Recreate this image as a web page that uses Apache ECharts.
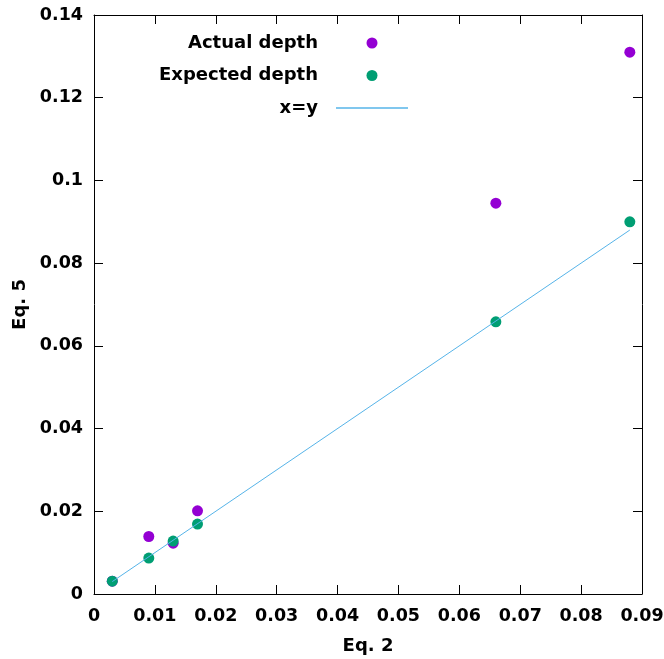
<!DOCTYPE html>
<html>
<head>
<meta charset="utf-8">
<script src="https://cdn.jsdelivr.net/npm/echarts@6/dist/echarts.min.js"></script>
<style>html,body{margin:0;padding:0;background:#fff}#c{width:664px;height:659px}</style>
</head>
<body>
<div id="c"></div>
<script>
// Data
const eq2 = [0.003, 0.009, 0.013, 0.017, 0.066, 0.088];
const actualDepth = [0.0031, 0.0139, 0.0123, 0.0201, 0.0945, 0.131];
const expectedDepth = [0.0031, 0.0087, 0.0128, 0.0169, 0.0658, 0.090];
const identityX = [0.003, 0.088];
const seriesNames = ['Actual depth', 'Expected depth', 'x=y'];

const FONT = 'DejaVu Sans';
const pairs = (xs, ys) => xs.map((x, i) => [x, ys[i]]);

const chart = echarts.init(document.getElementById('c'), null, {renderer: 'canvas'});
const tickStyle = {show: true, inside: true, length: 9, lineStyle: {color: '#000', width: 1}};
const axisLine = {show: true, onZero: false, lineStyle: {color: '#000', width: 1}};
const labelStyle = {color: '#000', fontFamily: FONT, fontWeight: 'bold', fontSize: 17.5};

chart.setOption({
  animation: false,
  backgroundColor: '#fff',
  grid: {left: 94, right: 22, top: 15, bottom: 65, containLabel: false, outerBoundsMode: 'none'},
  legend: {
    data: [
      {name: seriesNames[0]},
      {name: seriesNames[1]},
      {name: seriesNames[2], icon: 'path://M0,0h72v1.4h-72z', itemStyle: {color: '#56B4E9'}}
    ],
    orient: 'vertical',
    align: 'right',
    right: 251,
    top: 29,
    itemWidth: 72,
    itemHeight: 11,
    itemGap: 14.5,
    textStyle: {color: '#000', fontFamily: FONT, fontWeight: 'bold', fontSize: 18, padding: [0, 13, 0, 0]}
  },
  xAxis: [{
    type: 'value', min: 0, max: 0.09, interval: 0.01, position: 'bottom',
    name: 'Eq. 2', nameLocation: 'middle', nameGap: 43,
    nameTextStyle: {color: '#000', fontFamily: FONT, fontWeight: 'bold', fontSize: 18},
    axisLine: axisLine, axisTick: tickStyle,
    axisLabel: Object.assign({margin: 13}, labelStyle),
    splitLine: {show: false}
  }, {
    type: 'value', min: 0, max: 0.09, interval: 0.01, position: 'top',
    axisLine: axisLine, axisTick: tickStyle, axisLabel: {show: false}, splitLine: {show: false}
  }],
  yAxis: [{
    type: 'value', min: 0, max: 0.14, interval: 0.02, position: 'left',
    name: 'Eq. 5', nameLocation: 'middle', nameGap: 65,
    nameTextStyle: {color: '#000', fontFamily: FONT, fontWeight: 'bold', fontSize: 18},
    axisLine: axisLine, axisTick: tickStyle,
    axisLabel: Object.assign({margin: 11}, labelStyle),
    splitLine: {show: false}
  }, {
    type: 'value', min: 0, max: 0.14, interval: 0.02, position: 'right',
    axisLine: axisLine, axisTick: tickStyle, axisLabel: {show: false}, splitLine: {show: false}
  }],
  series: [{
    name: seriesNames[0], type: 'scatter', symbol: 'circle', symbolSize: 11,
    itemStyle: {color: '#9400D3', opacity: 1},
    data: pairs(eq2, actualDepth), z: 2
  }, {
    name: seriesNames[1], type: 'scatter', symbol: 'circle', symbolSize: 11,
    itemStyle: {color: '#009E73', opacity: 1},
    data: pairs(eq2, expectedDepth), z: 3
  }, {
    name: seriesNames[2], type: 'line', showSymbol: false, symbol: 'none',
    lineStyle: {color: '#56B4E9', width: 1},
    itemStyle: {color: '#56B4E9'},
    data: pairs(identityX, identityX), z: 4
  }]
});
</script>
</body>
</html>
